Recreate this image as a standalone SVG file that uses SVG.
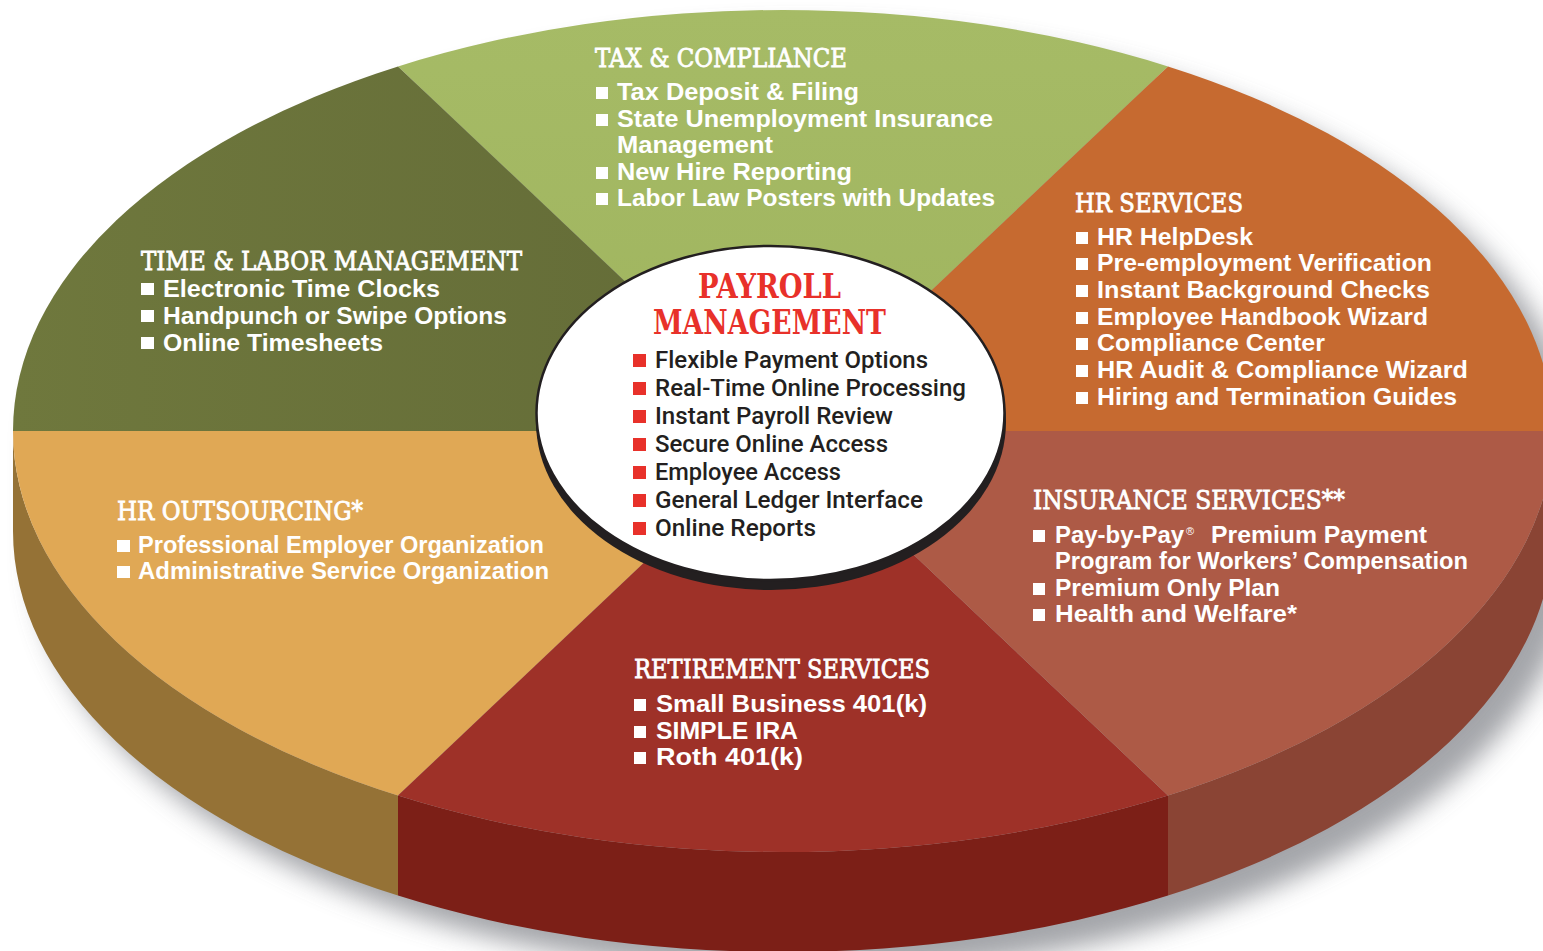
<svg xmlns="http://www.w3.org/2000/svg" width="1543" height="951" viewBox="0 0 1543 951">
<defs>
<style>
.hd{font-family:"DejaVu Serif","Liberation Serif",serif;font-size:26px;fill:#fff;stroke:#fff;stroke-width:0.8px}
.it{font-family:"Liberation Sans",Arial,sans-serif;font-weight:bold;font-size:24px;fill:#fff}
.reg{font-family:"Liberation Sans",Arial,sans-serif;font-size:11px;fill:#fff}
.ct{font-family:Roboto,"Liberation Sans",Arial,sans-serif;font-weight:500;font-size:24.5px;fill:#231f20}
.pt{font-family:"DejaVu Serif","Liberation Serif",serif;font-weight:bold;font-size:33px;fill:#e8312a}
.wb{fill:#fff}
.rb{fill:#e8312a}
</style>
<filter id="blur" x="-10%" y="-10%" width="120%" height="130%">
<feGaussianBlur stdDeviation="13"/>
</filter>
<linearGradient id="gOlive" x1="0" y1="0" x2="1" y2="0">
<stop offset="0" stop-color="#6f783d"/><stop offset="1" stop-color="#636b37"/>
</linearGradient>
<linearGradient id="gGreen" x1="0" y1="0" x2="0" y2="1">
<stop offset="0" stop-color="#a6bb66"/><stop offset="1" stop-color="#9fb45e"/>
</linearGradient>
</defs>
<rect width="1543" height="951" fill="#fff"/>

<g id="shadow">
<path d="M35,451 A770,421 0 0 1 1575,451 L1575,553 A770,421 0 0 1 35,553 Z" fill="#8d8f94" opacity="0.8" filter="url(#blur)"/>
</g>

<g id="side-walls">
<path d="M13,431 A770,421 0 0 0 398,795.6 L398,895.6 A770,421 0 0 1 13,531 Z" fill="#957236"/>
<path d="M398,795.6 A770,421 0 0 0 1168,795.6 L1168,895.6 A770,421 0 0 1 398,895.6 Z" fill="#7c1f17"/>
<path d="M1168,795.6 A770,421 0 0 0 1553,431 L1553,531 A770,421 0 0 1 1168,895.6 Z" fill="#8a4434"/>
</g>

<g id="connectors"></g>

<g id="tax-compliance">
<path d="M783,431 L1168,66.4 A770,421 0 0 0 398,66.4 Z" fill="url(#gGreen)"/>
<text class="hd" x="595" y="67" textLength="252" lengthAdjust="spacingAndGlyphs">TAX &amp; COMPLIANCE</text>
<rect class="wb" x="596" y="87" width="12" height="12"/>
<text class="it" x="617" y="100" textLength="242" lengthAdjust="spacingAndGlyphs">Tax Deposit &amp; Filing</text>
<rect class="wb" x="596" y="114" width="12" height="12"/>
<text class="it" x="617" y="127" textLength="376" lengthAdjust="spacingAndGlyphs">State Unemployment Insurance</text>
<text class="it" x="617" y="153" textLength="156" lengthAdjust="spacingAndGlyphs">Management</text>
<rect class="wb" x="596" y="167" width="12" height="12"/>
<text class="it" x="617" y="180" textLength="235" lengthAdjust="spacingAndGlyphs">New Hire Reporting</text>
<rect class="wb" x="596" y="193" width="12" height="12"/>
<text class="it" x="617" y="206" textLength="378" lengthAdjust="spacingAndGlyphs">Labor Law Posters with Updates</text>
</g>

<g id="time-labor">
<path d="M783,431 L398,66.4 A770,421 0 0 0 13,431 Z" fill="url(#gOlive)"/>
<text class="hd" x="141" y="270" textLength="381" lengthAdjust="spacingAndGlyphs">TIME &amp; LABOR MANAGEMENT</text>
<rect class="wb" x="141" y="283" width="13" height="12"/>
<text class="it" x="163" y="297" textLength="277" lengthAdjust="spacingAndGlyphs">Electronic Time Clocks</text>
<rect class="wb" x="141" y="310" width="13" height="12"/>
<text class="it" x="163" y="324" textLength="344" lengthAdjust="spacingAndGlyphs">Handpunch or Swipe Options</text>
<rect class="wb" x="141" y="337" width="13" height="12"/>
<text class="it" x="163" y="351" textLength="220" lengthAdjust="spacingAndGlyphs">Online Timesheets</text>
</g>

<g id="hr-outsourcing">
<path d="M783,431 L13,431 A770,421 0 0 0 398,795.6 Z" fill="#e0a855"/>
<text class="hd" x="117" y="520" textLength="246" lengthAdjust="spacingAndGlyphs">HR OUTSOURCING*</text>
<rect class="wb" x="117" y="540" width="13" height="12"/>
<text class="it" x="138" y="553" textLength="406" lengthAdjust="spacingAndGlyphs">Professional Employer Organization</text>
<rect class="wb" x="117" y="566" width="13" height="12"/>
<text class="it" x="138" y="579" textLength="411" lengthAdjust="spacingAndGlyphs">Administrative Service Organization</text>
</g>

<g id="retirement-services">
<path d="M783,431 L398,795.6 A770,421 0 0 0 1168,795.6 Z" fill="#9e3128"/>
<text class="hd" x="634" y="678" textLength="296" lengthAdjust="spacingAndGlyphs">RETIREMENT SERVICES</text>
<rect class="wb" x="634" y="699" width="12" height="12"/>
<text class="it" x="656" y="712" textLength="271" lengthAdjust="spacingAndGlyphs">Small Business 401(k)</text>
<rect class="wb" x="634" y="726" width="12" height="12"/>
<text class="it" x="656" y="739" textLength="142" lengthAdjust="spacingAndGlyphs">SIMPLE IRA</text>
<rect class="wb" x="634" y="752" width="12" height="12"/>
<text class="it" x="656" y="765" textLength="147" lengthAdjust="spacingAndGlyphs">Roth 401(k)</text>
</g>

<g id="insurance-services">
<path d="M783,431 L1168,795.6 A770,421 0 0 0 1553,431 Z" fill="#ad5a46"/>
<text class="hd" x="1033" y="509" textLength="312" lengthAdjust="spacingAndGlyphs">INSURANCE SERVICES**</text>
<rect class="wb" x="1033" y="530" width="12" height="12"/>
<text class="it" x="1055" y="543" textLength="129" lengthAdjust="spacingAndGlyphs">Pay-by-Pay</text>
<text class="reg" x="1186" y="535">®</text>
<text class="it" x="1211" y="543" textLength="216" lengthAdjust="spacingAndGlyphs">Premium Payment</text>
<text class="it" x="1055" y="569" textLength="413" lengthAdjust="spacingAndGlyphs">Program for Workers’ Compensation</text>
<rect class="wb" x="1033" y="583" width="12" height="12"/>
<text class="it" x="1055" y="596" textLength="225" lengthAdjust="spacingAndGlyphs">Premium Only Plan</text>
<rect class="wb" x="1033" y="609" width="12" height="12"/>
<text class="it" x="1055" y="622" textLength="242" lengthAdjust="spacingAndGlyphs">Health and Welfare*</text>
</g>

<g id="hr-services">
<path d="M783,431 L1553,431 A770,421 0 0 0 1168,66.4 Z" fill="#c66a30"/>
<text class="hd" x="1075" y="212" textLength="168" lengthAdjust="spacingAndGlyphs">HR SERVICES</text>
<rect class="wb" x="1076" y="232" width="12" height="12"/>
<text class="it" x="1097" y="245" textLength="156" lengthAdjust="spacingAndGlyphs">HR HelpDesk</text>
<rect class="wb" x="1076" y="258" width="12" height="12"/>
<text class="it" x="1097" y="271" textLength="335" lengthAdjust="spacingAndGlyphs">Pre-employment Verification</text>
<rect class="wb" x="1076" y="285" width="12" height="12"/>
<text class="it" x="1097" y="298" textLength="333" lengthAdjust="spacingAndGlyphs">Instant Background Checks</text>
<rect class="wb" x="1076" y="312" width="12" height="12"/>
<text class="it" x="1097" y="325" textLength="331" lengthAdjust="spacingAndGlyphs">Employee Handbook Wizard</text>
<rect class="wb" x="1076" y="338" width="12" height="12"/>
<text class="it" x="1097" y="351" textLength="228" lengthAdjust="spacingAndGlyphs">Compliance Center</text>
<rect class="wb" x="1076" y="365" width="12" height="12"/>
<text class="it" x="1097" y="378" textLength="371" lengthAdjust="spacingAndGlyphs">HR Audit &amp; Compliance Wizard</text>
<rect class="wb" x="1076" y="392" width="12" height="12"/>
<text class="it" x="1097" y="405" textLength="360" lengthAdjust="spacingAndGlyphs">Hiring and Termination Guides</text>
</g>

<g id="payroll-management">
<ellipse cx="771" cy="422" rx="235" ry="168" fill="#231f20"/>
<ellipse cx="770.5" cy="413" rx="234" ry="167" fill="#fff" stroke="#231f20" stroke-width="2.5"/>
<text class="pt" x="698" y="298" textLength="143" lengthAdjust="spacingAndGlyphs">PAYROLL</text>
<text class="pt" x="653" y="334" textLength="233" lengthAdjust="spacingAndGlyphs">MANAGEMENT</text>
<rect class="rb" x="633" y="354" width="13" height="13"/>
<text class="ct" x="655" y="368" textLength="273" lengthAdjust="spacingAndGlyphs">Flexible Payment Options</text>
<rect class="rb" x="633" y="382" width="13" height="13"/>
<text class="ct" x="655" y="396" textLength="311" lengthAdjust="spacingAndGlyphs">Real-Time Online Processing</text>
<rect class="rb" x="633" y="410" width="13" height="13"/>
<text class="ct" x="655" y="424" textLength="238" lengthAdjust="spacingAndGlyphs">Instant Payroll Review</text>
<rect class="rb" x="633" y="438" width="13" height="13"/>
<text class="ct" x="655" y="452" textLength="233" lengthAdjust="spacingAndGlyphs">Secure Online Access</text>
<rect class="rb" x="633" y="466" width="13" height="13"/>
<text class="ct" x="655" y="480" textLength="186" lengthAdjust="spacingAndGlyphs">Employee Access</text>
<rect class="rb" x="633" y="494" width="13" height="13"/>
<text class="ct" x="655" y="508" textLength="268" lengthAdjust="spacingAndGlyphs">General Ledger Interface</text>
<rect class="rb" x="633" y="522" width="13" height="13"/>
<text class="ct" x="655" y="536" textLength="161" lengthAdjust="spacingAndGlyphs">Online Reports</text>
</g>
</svg>
